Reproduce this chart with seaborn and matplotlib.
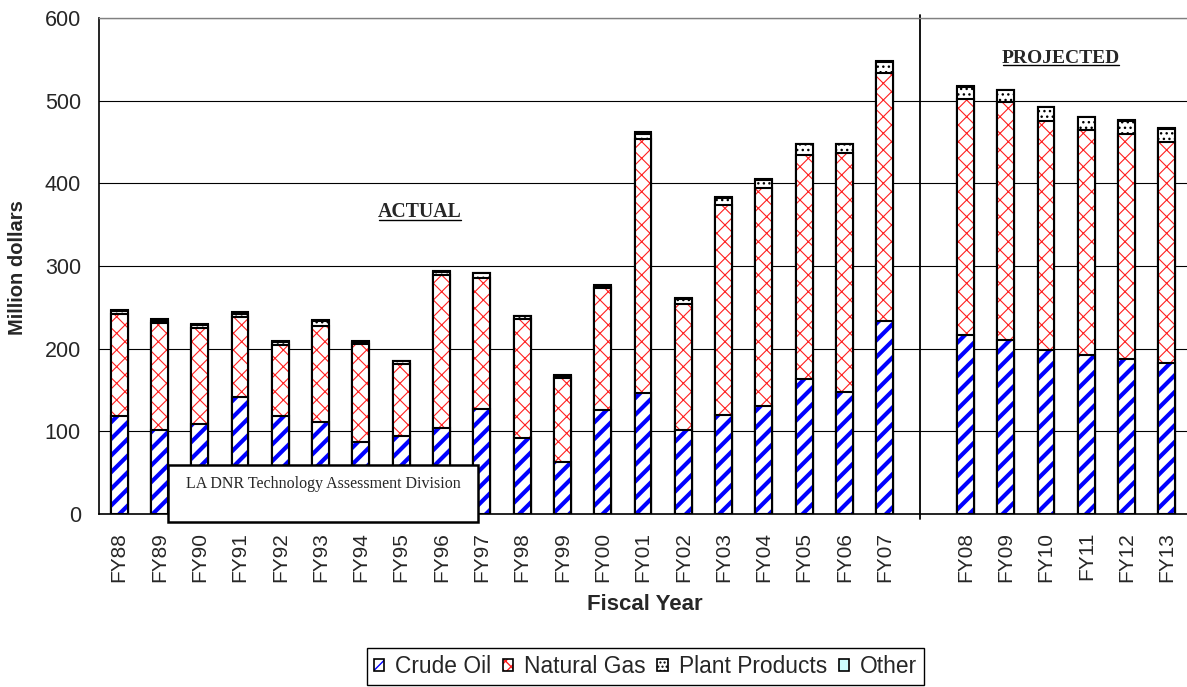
import matplotlib
matplotlib.use("Agg")
import matplotlib.pyplot as plt
import seaborn as sns
import pandas as pd
import numpy as np
from matplotlib.patches import Patch, Rectangle
from matplotlib.lines import Line2D
from matplotlib.transforms import IdentityTransform

# ---------------- data (million dollars) ----------------
years = ["FY88", "FY89", "FY90", "FY91", "FY92", "FY93", "FY94", "FY95", "FY96", "FY97",
         "FY98", "FY99", "FY00", "FY01", "FY02", "FY03", "FY04", "FY05", "FY06", "FY07",
         "FY08", "FY09", "FY10", "FY11", "FY12", "FY13"]
crude_oil = [118, 102, 109, 142, 118, 111, 87, 94, 104, 127,
             92, 63, 126, 146, 102, 120, 131, 163, 148, 233,
             217, 211, 198, 192, 187, 183]
natural_gas = [124, 129, 116, 96, 87, 117, 119, 87, 185, 159,
               144, 102, 147, 308, 152, 254, 263, 271, 289, 300,
               285, 287, 278, 273, 273, 267]
plant_products = [3, 3, 4, 4, 3, 6, 1.5, 4, 4, 5,
                  3, 2, 2, 6, 6, 8, 10, 13, 10, 14,
                  15, 15, 16, 15, 16, 16]
other = [2, 2, 0.5, 2, 1, 1, 1.5, 0.5, 1, 1,
         1, 1, 1.5, 1.5, 1, 1, 1, 1, 1, 1,
         0.5, 0.5, 0.5, 0.5, 0.5, 0.5]
series_names = ["Crude Oil", "Natural Gas", "Plant Products", "Other"]
n_actual = 20
gap_label = " "

# ---------------- style ----------------
sns.set_style("white")
plt.rcParams["font.family"] = ["Liberation Sans", "DejaVu Sans"]

W, H = 1187, 687
fig = plt.figure(figsize=(W / 100, H / 100), dpi=100)
ax_left, ax_right, ax_bottom, ax_top = 99, 1187, 514, 18
ax = fig.add_axes([ax_left / W, (H - ax_bottom) / H,
                   (ax_right - ax_left) / W, (ax_bottom - ax_top) / H])

order = years[:n_actual] + [gap_label] + years[n_actual:]
df = pd.DataFrame({"year": years, "crude": crude_oil, "gas": natural_gas,
                   "plant": plant_products, "other": other})
df["cg"] = df["crude"] + df["gas"]
df["cgp"] = df["cg"] + df["plant"]
df["total"] = df["cgp"] + df["other"]

BW = 0.42


def layer(col, face, edge, lw, hatch=None, hlw=1.0):
    n0 = len(ax.patches)
    with plt.rc_context({"hatch.linewidth": hlw}):
        sns.barplot(data=df, x="year", y=col, order=order, width=BW,
                    color="white", saturation=1, errorbar=None, ax=ax)
    for p in ax.patches[n0:]:
        p.set_facecolor(face)
        p.set_edgecolor(edge)
        p.set_linewidth(lw)
        p.set_hatch(hatch)
        if hasattr(p, "set_hatch_linewidth"):
            p.set_hatch_linewidth(hlw)


EDGE_LW = 1.5
# Other (light cyan) at the very top
layer("total", "#CCFFFF", "black", EDGE_LW)
# Plant products (dots)
layer("cgp", "white", "black", EDGE_LW, hatch="...", hlw=1.0)
# Natural gas (red cross-hatch)
layer("cg", "white", "#FF2020", 0, hatch="xx", hlw=0.8)
layer("cg", "none", "black", EDGE_LW)
# Crude oil (blue stripes)
layer("crude", "white", "#0000FF", 0, hatch="//", hlw=3.0)
layer("crude", "none", "black", EDGE_LW)

# ---------------- axes ----------------
ax.set_xlim(-0.5, 26.4)
ax.set_ylim(0, 600)
ax.set_yticks(np.arange(0, 601, 100))
ax.set_xticks(range(len(order)))
ax.set_xticklabels(order, rotation=90)
ax.set_xticks(np.arange(-0.5, len(order) - 0.4, 1), minor=True)
ax.tick_params(axis="x", which="major", length=0, pad=13, labelsize=15)
ax.tick_params(axis="x", which="minor", length=5, width=1, color="black", direction="out")
ax.tick_params(axis="y", which="major", length=6, width=1, color="black",
               direction="out", pad=7, labelsize=15.5)
ax.set_xlabel("")
ax.set_ylabel("")

ax.set_axisbelow(True)
ax.yaxis.grid(True, color="black", linewidth=0.8)
ax.xaxis.grid(False)
for s in ["left", "bottom"]:
    ax.spines[s].set_visible(True)
    ax.spines[s].set_color("black")
    ax.spines[s].set_linewidth(1.2)
ax.spines["right"].set_visible(False)
ax.spines["top"].set_visible(True)
ax.spines["top"].set_color("#808080")
ax.spines["top"].set_linewidth(1.0)

# separator between actual and projected
ax.axvline(n_actual - 0.13, ymin=-0.01, ymax=1.007, color="black", linewidth=1.3, clip_on=False)

# section titles
t1 = ax.text(0.295, 0.609, "ACTUAL", transform=ax.transAxes, ha="center", va="center",
             family=["Liberation Serif", "DejaVu Serif"], fontweight="bold", fontsize=14.3)
t2 = ax.text(0.884, 0.919, "PROJECTED", transform=ax.transAxes, ha="center", va="center",
             family=["Liberation Serif", "DejaVu Serif"], fontweight="bold", fontsize=14.0)

# axis labels
fig.text(18 / W, (H - 268) / H, "Million dollars", rotation=90, ha="center", va="center",
         fontweight="bold", fontsize=14.5)
fig.text(645 / W, (H - 604) / H, "Fiscal Year", ha="center", va="center",
         fontweight="bold", fontsize=16)

# source box
box = Rectangle((168 / W, (H - 522) / H), (478 - 168) / W, (522 - 465) / H,
                transform=fig.transFigure, facecolor="white", edgecolor="black",
                linewidth=1.8, zorder=10)
fig.patches.append(box)
fig.text(323 / W, (H - 484) / H, "LA DNR Technology Assessment Division",
         ha="center", va="center", family=["Liberation Serif", "DejaVu Serif"],
         fontsize=11.5, zorder=11)

# legend
handles = [
    (Patch(facecolor="white", edgecolor="#0000FF", hatch="///", linewidth=0),
     Patch(facecolor="none", edgecolor="black", linewidth=1.2)),
    (Patch(facecolor="white", edgecolor="#FF2020", hatch="xxx", linewidth=0),
     Patch(facecolor="none", edgecolor="black", linewidth=1.2)),
    Patch(facecolor="white", edgecolor="black", hatch="....", linewidth=1.2),
    Patch(facecolor="#CCFFFF", edgecolor="black", linewidth=1.2),
]
leg = fig.legend(handles, series_names, loc="upper center",
                 bbox_to_anchor=(645.5 / W, (H - 648) / H), ncol=4, fontsize=16.4,
                 frameon=True, fancybox=False, framealpha=1, edgecolor="black",
                 handlelength=0.45, handleheight=0.45, handletextpad=0.5,
                 columnspacing=0.5, borderpad=0.3, borderaxespad=0)
leg.get_frame().set_linewidth(1.0)

# underline the section titles
fig.canvas.draw()
r = fig.canvas.get_renderer()
for t in (t1, t2):
    bb = t.get_window_extent(r)
    fig.add_artist(Line2D([bb.x0 + 1, bb.x1 - 1], [bb.y0 + 1.5, bb.y0 + 1.5],
                          transform=IdentityTransform(), color="black", linewidth=1.0))

fig.savefig("out.png", dpi=100)
